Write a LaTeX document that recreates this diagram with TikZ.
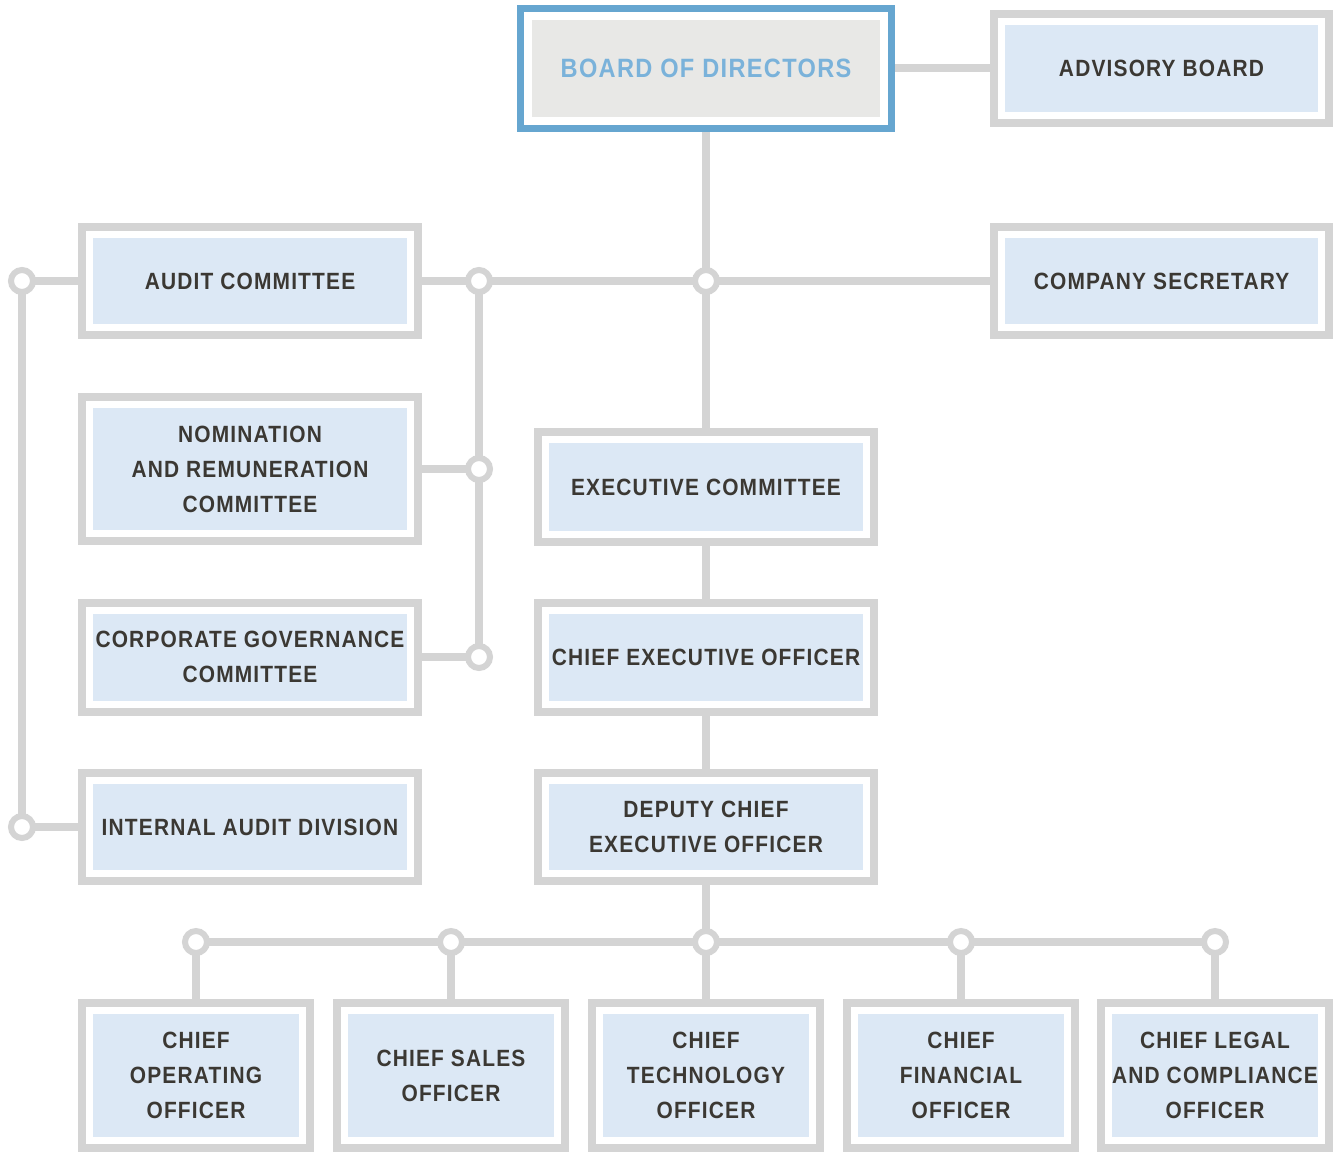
\documentclass[tikz,border=0pt]{standalone}
\usepackage{fontspec}
\setmainfont[FakeStretch=0.89,LetterSpace=5]{Liberation Sans}
\usetikzlibrary{backgrounds}
\definecolor{linegray}{HTML}{D4D4D4}
\definecolor{boxfill}{HTML}{DCE8F5}
\definecolor{boardblue}{HTML}{66A6D0}
\definecolor{boardfill}{HTML}{E8E8E6}
\definecolor{boardtext}{HTML}{7AB2DA}
\definecolor{txt}{HTML}{3B3833}
\begin{document}
\begin{tikzpicture}[x=1pt,y=-1pt,
  orgbox/.style args={#1x#2}{draw=linegray, line width=8pt, fill=white,
    minimum width=#1pt-8pt, minimum height=#2pt-8pt, inner sep=0pt, outer sep=0pt,
    align=center, text=txt, font=\fontsize{23.5}{35}\selectfont\bfseries,
    path picture={\fill[boxfill] ([shift={(11pt,11pt)}]path picture bounding box.south west)
      rectangle ([shift={(-11pt,-11pt)}]path picture bounding box.north east);}},
  boardbox/.style={draw=boardblue, line width=7pt, fill=white,
    minimum width=371pt, minimum height=120pt, inner sep=0pt, outer sep=0pt,
    text=boardtext, font=\fontsize{26.5}{32}\selectfont\bfseries,
    path picture={\fill[boardfill] ([shift={(11.5pt,11.5pt)}]path picture bounding box.south west)
      rectangle ([shift={(-11.5pt,-11.5pt)}]path picture bounding box.north east);}},
  junc/.style={circle, draw=linegray, line width=6pt, fill=white, minimum size=22pt, inner sep=0pt, outer sep=0pt},
  conn/.style={draw=linegray, line width=8pt}
]
\useasboundingbox (0,0) rectangle (1335,1153);
% boxes
\node[boardbox] (board) at (706,68.5) {BOARD OF DIRECTORS};
\node[orgbox=343x117] (advisory) at (1161.5,68.5) {ADVISORY BOARD};
\node[orgbox=344x116] (audit) at (250,281) {AUDIT COMMITTEE};
\node[orgbox=343x116] (secretary) at (1161.5,281) {COMPANY SECRETARY};
\node[orgbox=344x152] (nomination) at (250,469) {NOMINATION\\AND REMUNERATION\\COMMITTEE};
\node[orgbox=344x117] (governance) at (250,657) {CORPORATE GOVERNANCE\\COMMITTEE};
\node[orgbox=344x116] (internal) at (250,827) {INTERNAL AUDIT DIVISION};
\node[orgbox=344x118] (exec) at (706,487) {EXECUTIVE COMMITTEE};
\node[orgbox=344x117] (ceo) at (706,657) {CHIEF EXECUTIVE OFFICER};
\node[orgbox=344x116] (deputy) at (706,827) {DEPUTY CHIEF\\EXECUTIVE OFFICER};
\node[orgbox=236x153] (coo) at (196,1075.5) {CHIEF\\OPERATING\\OFFICER};
\node[orgbox=236x153] (cso) at (451,1075.5) {CHIEF SALES\\OFFICER};
\node[orgbox=236x153] (cto) at (706,1075.5) {CHIEF\\TECHNOLOGY\\OFFICER};
\node[orgbox=236x153] (cfo) at (961,1075.5) {CHIEF\\FINANCIAL\\OFFICER};
\node[orgbox=236x153] (clo) at (1215,1075.5) {CHIEF LEGAL\\AND COMPLIANCE\\OFFICER};
% junctions
\node[junc] (j1) at (706,281) {};
\node[junc] (j2) at (479,281) {};
\node[junc] (j3) at (479,469) {};
\node[junc] (j4) at (479,657) {};
\node[junc] (j5) at (22,281) {};
\node[junc] (j6) at (22,827) {};
\node[junc] (b1) at (196,942) {};
\node[junc] (b2) at (451,942) {};
\node[junc] (b3) at (706,942) {};
\node[junc] (b4) at (961,942) {};
\node[junc] (b5) at (1215,942) {};
% connectors
\begin{pgfonlayer}{background}
\path[conn] (board) -- (advisory);
\path[conn] (board.center) -- (j1.center) -- (exec.center);
\path[conn] (audit.center) -- (j2.center) -- (j1.center) -- (secretary.center);
\path[conn] (j2.center) -- (j3.center) -- (j4.center);
\path[conn] (nomination.center) -- (j3.center);
\path[conn] (governance.center) -- (j4.center);
\path[conn] (audit.center) -- (j5.center) -- (j6.center) -- (internal.center);
\path[conn] (exec.center) -- (ceo.center) -- (deputy.center) -- (b3.center);
\path[conn] (b1.center) -- (b2.center) -- (b3.center) -- (b4.center) -- (b5.center);
\path[conn] (b1.center) -- (coo.center);
\path[conn] (b2.center) -- (cso.center);
\path[conn] (b3.center) -- (cto.center);
\path[conn] (b4.center) -- (cfo.center);
\path[conn] (b5.center) -- (clo.center);
\end{pgfonlayer}
\end{tikzpicture}
\end{document}
